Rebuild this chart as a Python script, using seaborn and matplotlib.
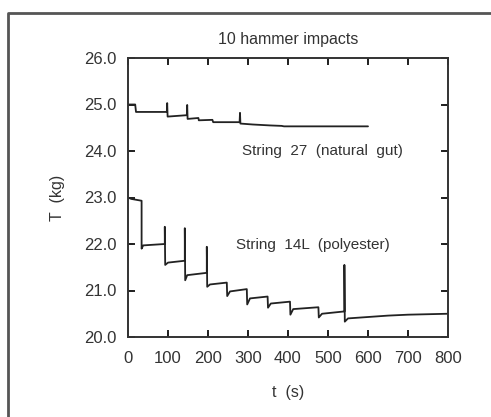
import matplotlib
matplotlib.use("Agg")
import matplotlib.pyplot as plt
import seaborn as sns
import pandas as pd
from matplotlib.lines import Line2D

poly_t = [0, 8, 34, 34, 38, 92, 92, 93, 100, 142, 142, 143, 148, 197, 197, 198, 205,
          247, 248, 255, 297, 298, 305, 349, 350, 357, 405, 406, 413, 476, 477, 485,
          541, 541, 542, 550, 600, 650, 700, 800]
poly_T = [23.0, 22.97, 22.93, 21.9, 21.97, 22.0, 22.37, 21.55, 21.6, 21.64, 22.34, 21.22,
          21.33, 21.38, 21.94, 21.08, 21.13, 21.17, 20.88, 20.98, 21.03, 20.7, 20.83,
          20.87, 20.63, 20.72, 20.76, 20.48, 20.6, 20.64, 20.42, 20.5, 20.55, 21.55,
          20.33, 20.4, 20.43, 20.46, 20.48, 20.5]

gut_t = [0, 18, 20, 97, 98, 99, 147, 148, 149, 176, 177, 211, 213, 279, 280, 281,
         312, 355, 384, 390, 600]
gut_T = [25.0, 25.0, 24.84, 24.84, 25.03, 24.74, 24.77, 24.99, 24.69, 24.71, 24.66,
         24.67, 24.62, 24.62, 24.82, 24.59, 24.57, 24.55, 24.54, 24.53, 24.53]

x_ticks = [0, 100, 200, 300, 400, 500, 600, 700, 800]
y_ticks = [20.0, 21.0, 22.0, 23.0, 24.0, 25.0, 26.0]
y_ticklabels = ["20.0", "21.0", "22.0", "23.0", "24.0", "25.0", "26.0"]

title = "10 hammer impacts"
label_gut = "String  27  (natural  gut)"
label_poly = "String  14L  (polyester)"

sns.set_style("ticks")
plt.rcParams['font.family'] = ['Liberation Sans', 'DejaVu Sans']
plt.rcParams.update({
    "xtick.major.pad": 10, "ytick.major.pad": 8,
    "xtick.labelsize": 12, "ytick.labelsize": 12,
})

fig = plt.figure(figsize=(4.91, 4.17), dpi=100)
ax = fig.add_axes([128 / 491, 1 - 337 / 417, 320 / 491, 279 / 417])

line_color = "#222222"
df_poly = pd.DataFrame({"t": poly_t, "T": poly_T})
df_gut = pd.DataFrame({"t": gut_t, "T": gut_T})
sns.lineplot(data=df_poly, x="t", y="T", sort=False, estimator=None, ax=ax,
             color=line_color, linewidth=1.3)
sns.lineplot(data=df_gut, x="t", y="T", sort=False, estimator=None, ax=ax,
             color=line_color, linewidth=1.3)

ax.set_xlim(0, 800)
ax.set_ylim(20, 26)
ax.set_xticks(x_ticks)
ax.set_yticks(y_ticks)
ax.set_yticklabels(y_ticklabels)
for s in ax.spines.values():
    s.set_linewidth(1.4)
    s.set_color("#333333")
    s.set_visible(True)

ax.set_xlabel("t  (s)", fontsize=11.5, color="#333333", labelpad=14)
ax.set_ylabel("T  (kg)", fontsize=11.5, color="#333333", labelpad=14)
ax.set_title(title, fontsize=11.5, color="#333333", pad=10)

ax.text(285, 24.0, label_gut, fontsize=11, color="#333333", va="center", ha="left")
ax.text(270, 21.98, label_poly, fontsize=11, color="#333333", va="center", ha="left")

ax.tick_params(direction="in", top=True, right=True, length=5, width=1.4, colors="#222222")
for lab in ax.get_xticklabels() + ax.get_yticklabels():
    lab.set_color("#333333")

# inward tick marks on all four sides, placed at the tick values
tx = 5 / 279
ty = 5 / 320
ax.vlines(x_ticks, 0, tx, transform=ax.get_xaxis_transform(), colors="#222222",
          linewidth=1.3, clip_on=False)
ax.vlines(x_ticks, 1 - tx, 1, transform=ax.get_xaxis_transform(), colors="#222222",
          linewidth=1.3, clip_on=False)
ax.hlines(y_ticks, 0, ty, transform=ax.get_yaxis_transform(), colors="#222222",
          linewidth=1.3, clip_on=False)
ax.hlines(y_ticks, 1 - ty, 1, transform=ax.get_yaxis_transform(), colors="#222222",
          linewidth=1.3, clip_on=False)
ax.set_xlim(0, 800)
ax.set_ylim(20, 26)

# outer frame of the picture (left and top edges visible)
fx = 8 / 491
fy = 1 - 13 / 417
fig.add_artist(Line2D([fx, fx, 1.0], [0.0, fy, fy], transform=fig.transFigure,
                      color="#555555", linewidth=2.0))

fig.savefig("out.png", dpi=100)
